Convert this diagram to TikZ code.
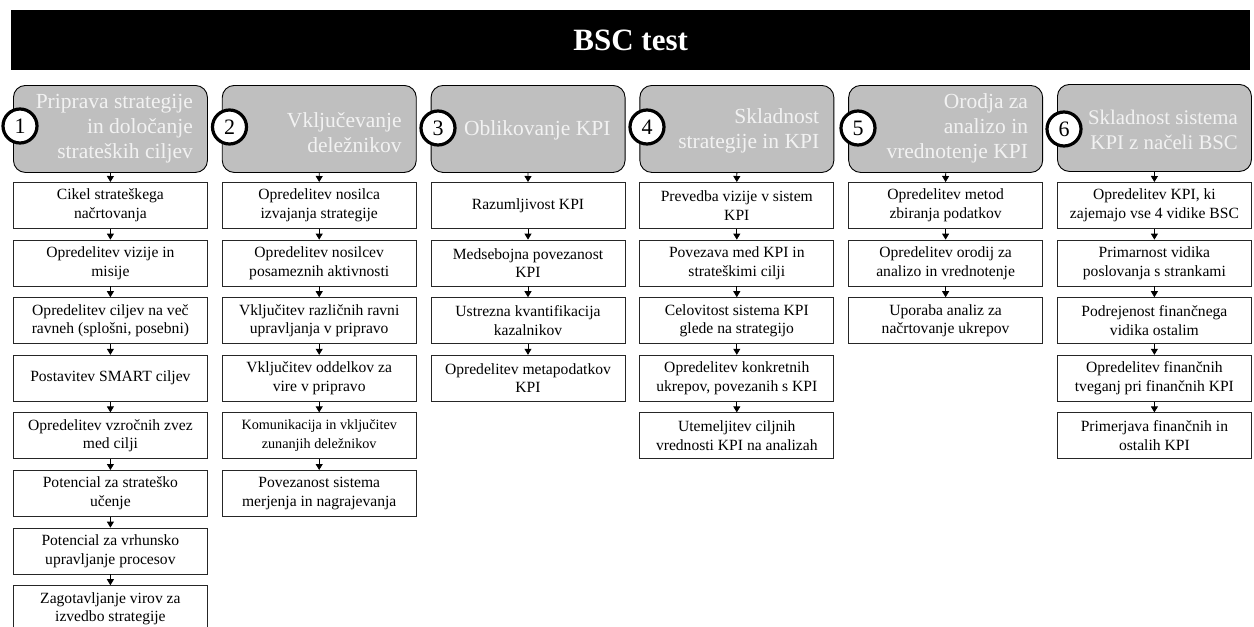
\documentclass[tikz,border=0pt]{standalone}
\usepackage{fontspec}
\setmainfont{Liberation Serif}
\usetikzlibrary{arrows.meta}
\definecolor{headgray}{HTML}{BFBFBF}
\begin{document}
\begin{tikzpicture}[x=1pt,y=-1pt,
  titlebar/.style={fill=black, text=white, minimum width=1239pt, minimum height=60pt, inner sep=0pt, anchor=north west, font=\fontsize{31}{35}\selectfont\bfseries},
  stagebox/.style={draw=black, fill=headgray, rounded corners=12pt, line width=0.9pt, minimum width=194pt, minimum height=87pt, inner sep=0pt, anchor=north west},
  stagetext/.style={text=white!95!black, font=\fontsize{21.5}{25}\selectfont, align=right, anchor=east, inner sep=0pt},
  numdot/.style={circle, draw=black, fill=white, line width=3.2pt, minimum size=34pt, inner sep=0pt, font=\fontsize{22}{25}\selectfont},
  itembox/.style={draw=black!85, fill=white, line width=0.8pt, minimum width=194pt, minimum height=46pt, align=center, inner sep=0pt, anchor=north west, font=\fontsize{15.6}{18.5}\selectfont},
  link/.style={-{Triangle[width=7pt,length=6pt]}, line width=0.8pt}
]
\useasboundingbox (0,0) rectangle (1254,627);
\clip (0,0) rectangle (1254,627);
\fill[white] (0,0) rectangle (1254,627);

% title bar
\node[titlebar] (title) at (11,10) {BSC test};

% stage headers
\node[stagebox] (h1) at (13,85) {};
\node[stagebox] (h2) at (221.8,85) {};
\node[stagebox] (h3) at (430.6,85) {};
\node[stagebox] (h4) at (639.4,85) {};
\node[stagebox] (h5) at (848.2,85) {};
\node[stagebox] (h6) at (1057,84) {};

\node[stagetext] (t1) at (193,129) {Priprava strategije\\in določanje\\strateških ciljev};
\node[stagetext] (t2) at (401.8,133) {Vključevanje\\deležnikov};
\node[stagetext] (t3) at (610.6,130) {Oblikovanje KPI};
\node[stagetext] (t4) at (819.4,131) {Skladnost\\strategije in KPI};
\node[stagetext] (t5) at (1028.2,128) {Orodja za\\analizo in\\vrednotenje KPI};
\node[stagetext, font=\fontsize{20.8}{25}\selectfont] (t6) at (1238,130) {Skladnost sistema\\KPI z načeli BSC};

\node[numdot] (n1) at (20,126) {1};
\node[numdot] (n2) at (229.5,127) {2};
\node[numdot] (n3) at (438,128) {3};
\node[numdot] (n4) at (647,127) {4};
\node[numdot] (n5) at (858,128) {5};
\node[numdot] (n6) at (1064,129) {6};

% column 1
\node[itembox] (i1-1) at (13,182) {Cikel strateškega\\načrtovanja};
\node[itembox] (i1-2) at (13,239.6) {Opredelitev vizije in\\misije};
\node[itembox] (i1-3) at (13,297.2) {Opredelitev ciljev na več\\ravneh (splošni, posebni)};
\node[itembox] (i1-4) at (13,354.8) {Postavitev SMART ciljev};
\node[itembox] (i1-5) at (13,412.4) {Opredelitev vzročnih zvez\\med cilji};
\node[itembox] (i1-6) at (13,470) {Potencial za strateško\\učenje};
\node[itembox] (i1-7) at (13,527.6) {Potencial za vrhunsko\\upravljanje procesov};
\node[itembox] (i1-8) at (13,585.2) {Zagotavljanje virov za\\izvedbo strategije};

% column 2
\node[itembox] (i2-1) at (221.8,182) {Opredelitev nosilca\\izvajanja strategije};
\node[itembox] (i2-2) at (221.8,239.6) {Opredelitev nosilcev\\posameznih aktivnosti};
\node[itembox] (i2-3) at (221.8,297.2) {Vključitev različnih ravni\\upravljanja v pripravo};
\node[itembox] (i2-4) at (221.8,354.8) {Vključitev oddelkov za\\vire v pripravo};
\node[itembox, font=\fontsize{14.2}{18.5}\selectfont] (i2-5) at (221.8,412.4) {Komunikacija in vključitev\\zunanjih deležnikov};
\node[itembox] (i2-6) at (221.8,470) {Povezanost sistema\\merjenja in nagrajevanja};

% column 3
\node[itembox] (i3-1) at (430.6,182) {Razumljivost KPI};
\node[itembox] (i3-2) at (430.6,239.6) {Medsebojna povezanost\\KPI};
\node[itembox] (i3-3) at (430.6,297.2) {Ustrezna kvantifikacija\\kazalnikov};
\node[itembox] (i3-4) at (430.6,354.8) {Opredelitev metapodatkov\\KPI};

% column 4
\node[itembox] (i4-1) at (639.4,182) {Prevedba vizije v sistem\\KPI};
\node[itembox] (i4-2) at (639.4,239.6) {Povezava med KPI in\\strateškimi cilji};
\node[itembox] (i4-3) at (639.4,297.2) {Celovitost sistema KPI\\glede na strategijo};
\node[itembox] (i4-4) at (639.4,354.8) {Opredelitev konkretnih\\ukrepov, povezanih s KPI};
\node[itembox] (i4-5) at (639.4,412.4) {Utemeljitev ciljnih\\vrednosti KPI na analizah};

% column 5
\node[itembox] (i5-1) at (848.2,182) {Opredelitev metod\\zbiranja podatkov};
\node[itembox] (i5-2) at (848.2,239.6) {Opredelitev orodij za\\analizo in vrednotenje};
\node[itembox] (i5-3) at (848.2,297.2) {Uporaba analiz za\\načrtovanje ukrepov};

% column 6
\node[itembox] (i6-1) at (1057,182) {Opredelitev KPI, ki\\zajemajo vse 4 vidike BSC};
\node[itembox] (i6-2) at (1057,239.6) {Primarnost vidika\\poslovanja s strankami};
\node[itembox] (i6-3) at (1057,297.2) {Podrejenost finančnega\\vidika ostalim};
\node[itembox] (i6-4) at (1057,354.8) {Opredelitev finančnih\\tveganj pri finančnih KPI};
\node[itembox] (i6-5) at (1057,412.4) {Primerjava finančnih in\\ostalih KPI};

% connectors
\foreach \c/\n in {1/8,2/6,3/4,4/5,5/3,6/5} {
  \draw[link] (h\c.south) -- (i\c-1.north);
  \foreach \k [evaluate=\k as \p using int(\k-1)] in {2,...,\n}
    \draw[link] (i\c-\p.south) -- (i\c-\k.north);
}
\end{tikzpicture}
\end{document}
